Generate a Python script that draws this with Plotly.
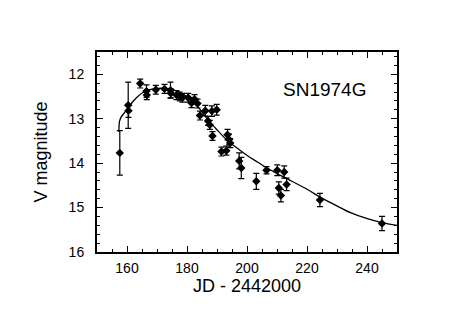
import plotly.graph_objects as go

# Observed photometry (JD - 2442000, V magnitude, 1-sigma error)
days = [157.6, 160.4, 160.5, 164.4, 166.5, 166.6, 169.6, 172.5, 174.5, 174.6,
        176.5, 177.6, 178.5, 180.4, 181.5, 182.5, 183.5, 184.3, 186.1, 187.0,
        187.6, 188.3, 188.5, 189.9, 191.5, 193.1, 193.5, 194.0, 194.4, 197.4,
        198.1, 203.1, 206.5, 210.1, 210.6, 211.3, 212.4, 213.2, 224.3, 245.0]
vmag = [13.77, 12.70, 12.82, 12.21, 12.38, 12.47, 12.35, 12.33, 12.36, 12.43,
        12.47, 12.50, 12.53, 12.53, 12.65, 12.56, 12.66, 12.93, 12.82, 13.05,
        13.14, 12.83, 13.39, 12.80, 13.74, 13.72, 13.36, 13.47, 13.55, 13.95,
        14.11, 14.41, 14.16, 14.16, 14.56, 14.73, 14.20, 14.48, 14.83, 15.36]
verr = [0.50, 0.52, 0.15, 0.10, 0.14, 0.10, 0.10, 0.10, 0.18, 0.10,
        0.10, 0.10, 0.10, 0.10, 0.10, 0.10, 0.10, 0.10, 0.12, 0.10,
        0.10, 0.12, 0.10, 0.12, 0.10, 0.10, 0.12, 0.12, 0.10, 0.18,
        0.24, 0.18, 0.08, 0.12, 0.14, 0.14, 0.14, 0.14, 0.15, 0.16]

# Model light curve
curve_days = [157.3, 157.5, 158.0, 159.2, 160.3, 161.9, 163.6, 165.3, 166.9, 170.3,
              173.0, 175.8, 179.2, 182.6, 186.9, 189.6, 193.6, 196.9, 200.3, 203.6,
              206.4, 209.6, 213.6, 220.3, 224.2, 229.6, 234.7, 239.6, 244.9, 250.0]
curve_vmag = [13.30, 13.06, 12.97, 12.86, 12.76, 12.62, 12.50, 12.41, 12.36, 12.32,
              12.32, 12.36, 12.47, 12.65, 13.02, 13.22, 13.50, 13.67, 13.84, 13.98,
              14.10, 14.22, 14.36, 14.60, 14.76, 14.95, 15.12, 15.24, 15.34, 15.40]

x_ticks = [160, 180, 200, 220, 240]
y_ticks = [12, 13, 14, 15, 16]

fig = go.Figure()
fig.add_trace(go.Scatter(
    x=curve_days, y=curve_vmag, mode="lines",
    line=dict(color="black", width=1.3, shape="spline"),
    showlegend=False, hoverinfo="skip"))
fig.add_trace(go.Scatter(
    x=days, y=vmag, mode="markers",
    marker=dict(symbol="diamond", size=6.5, color="black"),
    error_y=dict(type="data", array=verr, visible=True, color="black",
                 thickness=1.2, width=3),
    showlegend=False))

font_family = "Liberation Sans, Arial, Helvetica, sans-serif"
axis_common = dict(
    showline=True, linecolor="black", linewidth=2, mirror="ticks",
    ticks="inside", ticklen=6, tickwidth=1.2, tickcolor="black",
    showgrid=False, zeroline=False,
    tickfont=dict(family=font_family, size=14, color="black"),
)

fig.update_xaxes(
    range=[150, 250], tickvals=x_ticks, ticktext=[str(v) for v in x_ticks],
    minor=dict(dtick=5, ticks="inside", ticklen=3, tickcolor="black", tickwidth=1),
    ticklabelstandoff=2,
    title=dict(text="JD - 2442000", font=dict(family=font_family, size=18, color="black"),
               standoff=5),
    **axis_common)
fig.update_yaxes(
    range=[16, 11.5], tickvals=y_ticks, ticktext=[str(v) for v in y_ticks],
    minor=dict(dtick=0.2, ticks="inside", ticklen=3, tickcolor="black", tickwidth=1),
    ticklabelstandoff=8,
    title=dict(text="V magnitude", font=dict(family=font_family, size=18, color="black"),
               standoff=16),
    **axis_common)

fig.add_annotation(
    text="SN1974G", xref="paper", yref="paper", x=0.757, y=0.81,
    showarrow=False, xanchor="center", yanchor="middle",
    font=dict(family=font_family, size=19, color="black"))

fig.update_layout(
    width=457, height=311,
    margin=dict(l=89, r=68, t=44, b=67),
    paper_bgcolor="white", plot_bgcolor="white",
)

fig.write_html("out.html")
